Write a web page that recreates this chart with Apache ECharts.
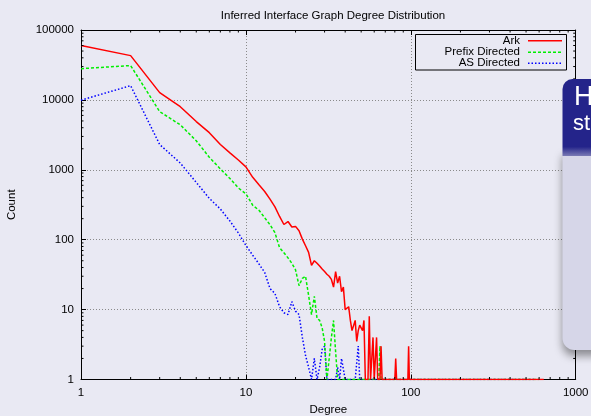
<!DOCTYPE html>
<html><head><meta charset="utf-8">
<script src="https://cdn.jsdelivr.net/npm/echarts@6/dist/echarts.min.js"></script>
<style>html,body{margin:0;padding:0;background:#e9e9f3;}#c{width:591px;height:416px;}</style>
</head><body><div id="c"></div>
<script>
// ---- data ----
const chartTitle = 'Inferred Interface Graph Degree Distribution';
const xName = 'Degree';
const yName = 'Count';
const seriesNames = ['Ark', 'Prefix Directed', 'AS Directed'];
const xTickValues = [1, 10, 100, 1000];
const yTickValues = [1, 10, 100, 1000, 10000, 100000];

const arkDegree = [1,2,3,4,5,6,7,8,9,10, 11,12,13,14,15,16,17,18,19,20, 21,22,23,24,25,26,27,28,29,30,
  31,32,33,34,35,36,37,38,39,40, 41,42,43,44,45,46,47,48,49,50, 51,52,53,54,55,56,57,58,59,60,
  61,62,63,64,65,66,67, 80,81,82,96,97,98,640];
const arkCount = [60000,43000,12700,8000,4900,3400,2300,1750,1380,1100,
  780,610,490,380,295,215,165,182,152,155,
  134,102,82,66,43,50,46,42,38,35,
  32,30,27,21,35,24,30,18,21,10,
  10,11,7,5,5,7,3.5,5,6,6,
  5,7,1,1,1,8,1,1,4,1,
  1,4,1,1,1,3,1,
  1,2,1,1,3,1,1];

const prefixDegree = [1,2,3,4,5,6,7,8,9,10, 11,12,13,14,15,16,17,18,19,20, 21,22,23,24,25,26,27,28,29,30,
  31,32,33,34,35,36, 64,65,66,600];
const prefixCount = [28000,31000,6800,4400,2600,1510,1030,750,550,454,
  311,264,206,164,126,77,65,55,46,37,
  22,28,30,16,8.5,15.5,7.5,7,5.5,3.5,
  1,2,4,7,2.5,1,
  1,3,1,1];

const asDegree = [1,2,3,4,5,6,7,8,9,10, 11,12,13,14,15,16,17,18,19,20, 21,22,23,24,25,26,27,28,29,30,
  31,32,33,34,35,36,37,38,39,40, 41,42,43,44,45,46,47,48,49,50, 560];
const asCount = [9900,16000,2300,1250,660,390,275,185,125,83,
  60,45,34,20,17,11,9,8.5,13,9.5,
  8.5,4,2.2,1.5,1,2,1,1.5,2.7,3,
  1,1,1,1,1,1.5,1,2,2,1,
  1,1,1,1,1,1,1,3,1,1,
  1];

// ---- styling ----
const FONT = '"Liberation Sans", Arial, Helvetica, sans-serif';
const X_MIN = 1, X_MAX = 1000, Y_MIN = 1, Y_MAX = 100000;
const MINOR = 2.5;
const colors = ['#ff0000', '#00ee00', '#0000ff'];
const dashes = ['solid', [3, 2], [1.5, 2]];

function minorValues(lo, hi) {
  const out = [];
  for (let p = lo; p < hi; p *= 10) for (let m = 2; m <= 9; m++) out.push(m * p);
  return out;
}
const xMinor = minorValues(X_MIN, X_MAX);
const yMinor = minorValues(Y_MIN, Y_MAX);
const pairs = (d, c) => d.map((x, i) => [x, c[i]]);
const fmt = v => String(Math.round(v));

const chart = echarts.init(document.getElementById('c'), null, {renderer: 'canvas'});

const gridLine = {show: true, lineStyle: {color: '#8a8a8a', width: 1, type: [1, 2]}};
const axLine = {show: true, lineStyle: {color: '#000', width: 1}};
const majorTick = {show: true, inside: true, length: 5, lineStyle: {color: '#000', width: 1}};

function lineSeries(i, d, c) {
  return {
    name: seriesNames[i], type: 'line', xAxisIndex: 0, yAxisIndex: 0,
    data: pairs(d, c), showSymbol: false, symbol: 'none', z: 3 - i + 2,
    lineStyle: {color: colors[i], width: 1.5, type: dashes[i]},
    itemStyle: {color: colors[i]}, animation: false
  };
}

const legendRows = [40.7, 52.3, 63.3];
const legendGraphics = [
  {type: 'rect', shape: {x: 415.5, y: 34.5, width: 151, height: 35.5},
   style: {fill: 'none', stroke: '#000', lineWidth: 1}, z: 100}
];
seriesNames.forEach((n, i) => {
  legendGraphics.push({type: 'text', x: 520, y: legendRows[i], z: 100,
    style: {text: n, font: '11.5px ' + FONT, fill: '#000', align: 'right', verticalAlign: 'middle'}});
  legendGraphics.push({type: 'line', z: 100,
    shape: {x1: 528, y1: legendRows[i], x2: 562, y2: legendRows[i]},
    style: {stroke: colors[i], lineWidth: 1.5, lineDash: dashes[i] === 'solid' ? null : dashes[i]}});
});

const overlay = [
  {type: 'rect', z: 200, shape: {x: 562.5, y: 150, width: 40, height: 200, r: [0, 0, 0, 12]},
   style: {fill: '#d6d6e8', shadowBlur: 8, shadowOffsetY: 6, shadowColor: 'rgba(0,0,0,0.4)'}},
  {type: 'rect', z: 201, shape: {x: 562.5, y: 79, width: 40, height: 77, r: [10, 0, 0, 0]},
   style: {fill: new echarts.graphic.LinearGradient(0, 0, 0, 1, [
     {offset: 0, color: '#24248a'}, {offset: 0.88, color: '#24248a'}, {offset: 1, color: '#7a7ab4'}])}},
  {type: 'text', z: 202, x: 574, y: 97.7,
   style: {text: 'H', font: '27px ' + FONT, fill: '#ffffff', verticalAlign: 'middle'}},
  {type: 'text', z: 202, x: 573, y: 124,
   style: {text: 'st', font: '22px ' + FONT, fill: '#ffffff', verticalAlign: 'middle'}}
];

const option = {
  backgroundColor: '#e9e9f3',
  animation: false,
  title: {text: chartTitle, left: 328, top: 5, textAlign: 'center',
    textStyle: {fontSize: 11.5, fontWeight: 'normal', color: '#000', fontFamily: FONT}},
  grid: {left: 81, right: 15.3, top: 30, bottom: 36.5, containLabel: false, outerBoundsMode: 'none'},
  xAxis: [{
    type: 'log', logBase: 10, min: X_MIN, max: X_MAX, position: 'bottom',
    axisLine: axLine, axisTick: majorTick, splitLine: gridLine,
    axisLabel: {color: '#000', fontSize: 11.5, fontFamily: FONT, margin: 7,
      formatter: v => xTickValues.includes(Math.round(v)) ? fmt(v) : ''},
    name: xName, nameLocation: 'middle', nameGap: 22,
    nameTextStyle: {color: '#000', fontSize: 11.5, fontFamily: FONT}
  }, {
    type: 'log', logBase: 10, min: X_MIN, max: X_MAX, position: 'top',
    axisLine: axLine, axisTick: majorTick, splitLine: {show: false}, axisLabel: {show: false}
  }],
  yAxis: [{
    type: 'log', logBase: 10, min: Y_MIN, max: Y_MAX, position: 'left',
    axisLine: axLine, axisTick: majorTick, splitLine: gridLine,
    axisLabel: {color: '#000', fontSize: 11.5, fontFamily: FONT, margin: 7,
      formatter: v => yTickValues.includes(Math.round(v)) ? fmt(v) : ''},
    name: yName, nameLocation: 'middle', nameGap: 63, nameRotate: 90,
    nameTextStyle: {color: '#000', fontSize: 11.5, fontFamily: FONT}
  }, {
    type: 'log', logBase: 10, min: Y_MIN, max: Y_MAX, position: 'right',
    axisLine: axLine, axisTick: majorTick, splitLine: {show: false}, axisLabel: {show: false}
  }],
  series: [
    lineSeries(2, asDegree, asCount),
    lineSeries(1, prefixDegree, prefixCount),
    lineSeries(0, arkDegree, arkCount),
    {
      type: 'custom', xAxisIndex: 0, yAxisIndex: 0, silent: true, z: 10, animation: false,
      data: xMinor.map(v => [v, Y_MIN]),
      renderItem(params, api) {
        const v = api.value(0);
        const b = api.coord([v, Y_MIN]), t = api.coord([v, Y_MAX]);
        return {type: 'group', children: [
          {type: 'line', shape: {x1: b[0], y1: b[1], x2: b[0], y2: b[1] - MINOR}, style: {stroke: '#000', lineWidth: 1}},
          {type: 'line', shape: {x1: t[0], y1: t[1], x2: t[0], y2: t[1] + MINOR}, style: {stroke: '#000', lineWidth: 1}}
        ]};
      }
    },
    {
      type: 'custom', xAxisIndex: 0, yAxisIndex: 0, silent: true, z: 10, animation: false,
      data: yMinor.map(v => [X_MIN, v]),
      renderItem(params, api) {
        const v = api.value(1);
        const l = api.coord([X_MIN, v]), r = api.coord([X_MAX, v]);
        return {type: 'group', children: [
          {type: 'line', shape: {x1: l[0], y1: l[1], x2: l[0] + MINOR, y2: l[1]}, style: {stroke: '#000', lineWidth: 1}},
          {type: 'line', shape: {x1: r[0], y1: r[1], x2: r[0] - MINOR, y2: r[1]}, style: {stroke: '#000', lineWidth: 1}}
        ]};
      }
    }
  ],
  graphic: legendGraphics.concat(overlay)
};
chart.setOption(option);
</script>
</body></html>
